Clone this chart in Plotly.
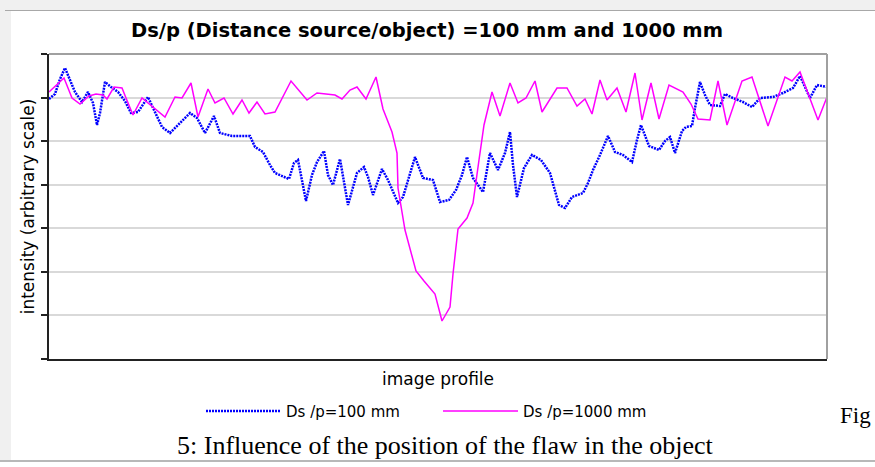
import plotly.graph_objects as go

# Data (profile position, intensity in arbitrary units)
blue_x = [0, 6, 11, 16, 21, 26, 33, 39, 44, 48, 51, 56, 62, 69, 76, 82, 89, 99, 105, 113,
          121, 131, 141, 148, 156, 165, 171, 183, 201, 206, 214, 221, 226, 240, 245, 249, 253, 257, 263, 268,
          275, 279, 284, 291, 299, 308, 315, 319, 324, 333, 339, 349, 354, 361, 366, 374, 384, 391, 400, 407,
          413, 418, 424, 434, 441, 449, 456, 461, 464, 468, 475, 483, 492, 501, 507, 510, 516, 523, 534, 539,
          544, 551, 559, 566, 574, 583, 588, 592, 600, 610, 616, 621, 626, 633, 637, 643, 646, 651, 656, 661,
          671, 676, 684, 694, 703, 711, 724, 734, 744, 751, 761, 768, 778]
blue_y = [260, 265, 280, 291, 279, 267, 257, 267, 256, 234, 246, 277, 272, 267, 258, 246, 247, 262, 249, 232,
          226, 236, 246, 241, 226, 243, 226, 223, 223, 212, 207, 194, 186, 180, 196, 199, 177, 158, 184, 197,
          208, 184, 174, 200, 154, 186, 192, 182, 164, 190, 179, 156, 162, 184, 202, 181, 179, 157, 159, 169,
          184, 202, 181, 167, 206, 189, 206, 227, 194, 162, 191, 204, 199, 186, 164, 154, 151, 162, 166, 176,
          189, 204, 223, 207, 204, 197, 219, 234, 213, 209, 218, 222, 206, 228, 232, 233, 251, 277, 264, 254,
          253, 265, 261, 257, 252, 261, 262, 266, 271, 283, 261, 274, 272]

pink_x = [0, 15, 23, 31, 40, 47, 54, 58, 65, 73, 77, 84, 93, 99, 116, 126, 133, 142, 149, 159,
          166, 175, 184, 193, 200, 208, 216, 226, 242, 258, 268, 286, 293, 301, 308, 317, 327, 334, 343, 348,
          349, 356, 367, 375, 386, 393, 401, 404, 409, 418, 424, 430, 435, 443, 451, 461, 469, 477, 486, 493,
          508, 518, 528, 536, 543, 551, 558, 568, 577, 586, 593, 602, 610, 620, 634, 642, 649, 661, 669, 678,
          693, 703, 719, 736, 743, 751, 760, 769, 778]
pink_y = [267, 281, 261, 255, 263, 265, 264, 260, 272, 271, 261, 244, 261, 256, 242, 262, 261, 276, 242, 270,
          256, 261, 245, 259, 246, 257, 245, 247, 278, 259, 266, 264, 260, 269, 272, 260, 282, 250, 227, 206,
          171, 129, 88, 78, 65, 38, 52, 85, 130, 141, 156, 199, 234, 267, 243, 276, 256, 261, 278, 247,
          271, 271, 253, 260, 245, 279, 259, 271, 247, 286, 239, 276, 240, 274, 267, 255, 240, 239, 278, 234,
          278, 282, 233, 282, 278, 287, 263, 239, 262]

series_names = ["Ds /p=100 mm", "Ds /p=1000 mm"]
title_text = "Ds/p (Distance source/object) =100 mm and 1000 mm"
x_title = "image profile"
y_title = "intensity (arbitrary scale)"
caption = "5: Influence of the position of the flaw in the object"

Y_MAX = 305
X_MAX = 778

fig = go.Figure()
fig.add_trace(go.Scatter(x=blue_x, y=blue_y, mode="lines", name=series_names[0],
                         line=dict(color="#0000ff", width=2.5, dash="2px,1px")))
fig.add_trace(go.Scatter(x=pink_x, y=pink_y, mode="lines", name=series_names[1],
                         line=dict(color="#ff00ff", width=1.5)))

fig.update_layout(
    width=875, height=467,
    margin=dict(l=49, r=48, t=54, b=108),
    paper_bgcolor="white", plot_bgcolor="white",
    title=dict(text="<b>" + title_text + "</b>", x=427 / 875, xanchor="center", y=1 - 30 / 467, yanchor="middle",
               font=dict(family="DejaVu Sans", size=19.5, color="black")),
    showlegend=True,
    legend=dict(orientation="h", x=0.5, xanchor="center", y=-0.171, yanchor="middle",
                entrywidth=147, entrywidthmode="pixels", itemwidth=75,
                font=dict(family="DejaVu Sans", size=15, color="black"),
                bgcolor="rgba(0,0,0,0)"),
    font=dict(family="DejaVu Sans", color="black"),
)

fig.update_xaxes(range=[0, X_MAX], showgrid=False, zeroline=False, showticklabels=False,
                 showline=True, linecolor="#222222", linewidth=2, ticks="", automargin=False,
                 title=dict(text=x_title, font=dict(size=17), standoff=13))
fig.update_yaxes(range=[0, Y_MAX], tick0=0, dtick=Y_MAX / 7, showgrid=True, gridcolor="#d9d9d9",
                 gridwidth=2, zeroline=False, showticklabels=False, automargin=False,
                 showline=True, linecolor="#222222", linewidth=2,
                 ticks="outside", ticklen=6, tickwidth=2, tickcolor="#222222",
                 title=dict(text=y_title, font=dict(size=17), standoff=2))

# plot frame (top and right) in grey
fig.add_shape(type="line", xref="paper", yref="paper", x0=0, x1=1, y0=1, y1=1,
              line=dict(color="#a0a0a0", width=2))
fig.add_shape(type="line", xref="paper", yref="paper", x0=1, x1=1, y0=0, y1=1,
              line=dict(color="#a0a0a0", width=2))

# page decorations (document frame around the chart)
W, H = 875.0, 467.0
def px(x):
    return (x - 49) / (W - 49 - 48)
def py(y):
    return (H - 108 - y) / (H - 54 - 108)

fig.add_shape(type="rect", xref="paper", yref="paper", x0=px(0), x1=px(875), y0=py(0), y1=py(10),
              fillcolor="#f0f0f0", line=dict(width=0), layer="below")
fig.add_shape(type="rect", xref="paper", yref="paper", x0=px(0), x1=px(11), y0=py(10), y1=py(460),
              fillcolor="#f0f0f0", line=dict(width=0), layer="below")
fig.add_shape(type="line", xref="paper", yref="paper", x0=px(5), x1=px(875), y0=py(10.5), y1=py(10.5),
              line=dict(color="#a8a8a8", width=1))
fig.add_shape(type="line", xref="paper", yref="paper", x0=px(0), x1=px(875), y0=py(461), y1=py(461),
              line=dict(color="#b8b8b8", width=2))

fig.add_annotation(text=caption, xref="paper", yref="paper", x=px(445), y=py(445),
                   xanchor="center", yanchor="middle", showarrow=False,
                   font=dict(family="Liberation Serif, Times New Roman", size=26, color="black"))
fig.add_annotation(text="Fig", xref="paper", yref="paper", x=px(838), y=py(416),
                   xanchor="left", yanchor="middle", showarrow=False,
                   font=dict(family="Liberation Serif, Times New Roman", size=23, color="black"))

fig.write_html("out.html", config={"displayModeBar": False},
               post_script="document.body.style.margin='0';document.body.style.padding='0';")
